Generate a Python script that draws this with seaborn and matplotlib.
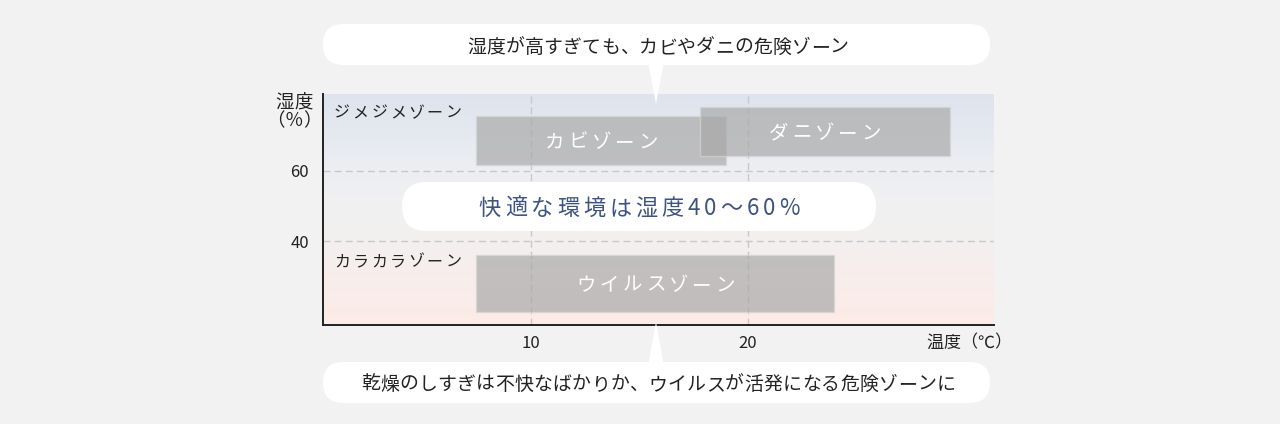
import numpy as np
import pandas as pd
import seaborn as sns
import matplotlib
matplotlib.use("Agg")
import matplotlib.pyplot as plt
from matplotlib.patches import FancyBboxPatch, Polygon
from matplotlib.colors import LinearSegmentedColormap
from matplotlib.font_manager import findfont, FontProperties
from matplotlib.ft2font import FT2Font

# ---------------- data ----------------
zone_names = ["カビゾーン", "ダニゾーン", "ウイルスゾーン"]
zone_temp_lo = [7.5, 17.8, 7.5]
zone_temp_hi = [19.0, 29.3, 24.0]
zone_hum_lo = [61.5, 64.2, 20.0]
zone_hum_hi = [75.5, 78.0, 36.0]

x_ticks = [10, 20]
y_ticks = [40, 60]
x_range = [0.43, 31.35]
y_range = [16.3, 81.7]

band_labels = ["ジメジメゾーン", "カラカラゾーン"]
band_label_y = [76.6, 34.6]

top_note = "湿度が高すぎても、カビやダニの危険ゾーン"
bottom_note = "乾燥のしすぎは不快なばかりか、ウイルスが活発になる危険ゾーンに"
comfort_note = "快適な環境は湿度40〜60%"
x_label = "温度（℃）"
y_label = ["湿度", "（％）"]

df = pd.DataFrame({"zone": zone_names, "t0": zone_temp_lo, "t1": zone_temp_hi,
                   "h0": zone_hum_lo, "h1": zone_hum_hi})

# ---------------- style ----------------
sns.set_theme(style="white")
FAM = ["Noto Sans CJK JP", "DejaVu Sans"]
plt.rcParams["font.family"] = FAM

W, H = 1280, 424
DPI = 100
fig = plt.figure(figsize=(W / DPI, H / DPI), dpi=DPI)
fig.patch.set_facecolor("#f2f2f2")

ax = fig.add_axes([323 / W, 1 - 325 / H, (994 - 323) / W, (325 - 94) / H])

# background gradient
cmap = LinearSegmentedColormap.from_list(
    "bg", [(0.0, "#fdebe7"), (0.32, "#f4efee"), (0.5, "#f1f1f1"), (0.68, "#eceef2"), (1.0, "#dee3ed")])
grad = np.linspace(0, 1, 256).reshape(-1, 1)
ax.imshow(grad, extent=(x_range[0], x_range[1], y_range[0], y_range[1]), origin="lower",
          aspect="auto", cmap=cmap, zorder=0, interpolation="bilinear")
ax.set_xlim(*x_range)
ax.set_ylim(*y_range)

# grid
ax.set_axisbelow(True)
ax.set_xticks(x_ticks)
ax.set_yticks(y_ticks)
ax.grid(True, color="#c8c8c8", linestyle=(0, (5, 3)), linewidth=1.0)

# zone rectangles
ax.bar(df["t0"], df["h1"] - df["h0"], width=df["t1"] - df["t0"], bottom=df["h0"],
       align="edge", color="#a8a8a8", alpha=0.68, edgecolor="#d6d6d6", linewidth=1.0, zorder=2)

sns.despine(ax=ax)
for s in ["left", "bottom"]:
    ax.spines[s].set_color("#222222")
    ax.spines[s].set_linewidth(1.4)
ax.tick_params(axis="both", length=0, labelsize=12, colors="#222222")
ax.tick_params(axis="y", pad=10)
ax.tick_params(axis="x", pad=7)
for lab in ax.get_xticklabels() + ax.get_yticklabels():
    lab.set_family(FAM)

# ---------------- overlay in pixel coordinates ----------------
ov = fig.add_axes([0, 0, 1, 1], zorder=5)
ov.set_xlim(0, W)
ov.set_ylim(0, H)
ov.axis("off")
ov.patch.set_alpha(0)

_font = FT2Font(findfont(FontProperties(family="Noto Sans CJK JP")))


def advance(ch, size):
    _font.set_size(size, DPI)
    g = _font.load_char(ord(ch))
    return g.linearHoriAdvance / 65536.0


def tracked(x, y, s, size, track, color, ha="center"):
    """Draw text with letter spacing; y is the visual centre (pixels from top)."""
    widths = [advance(ch, size) for ch in s]
    total = sum(widths) + track * (len(s) - 1)
    start = x - total / 2 if ha == "center" else x
    em = size * DPI / 72
    base = H - y - 0.37 * em
    for ch, w in zip(s, widths):
        ov.text(start, base, ch, fontsize=size, family=FAM, color=color,
                ha="left", va="baseline")
        start += w + track


def callout(x0, x1, y0, y1, tip_y, tip_x, base_y):
    box = FancyBboxPatch((x0, H - y1), x1 - x0, y1 - y0,
                         boxstyle="round,pad=0,rounding_size=%f" % ((y1 - y0) / 2),
                         facecolor="white", edgecolor="none", mutation_aspect=1)
    ov.add_patch(box)
    if tip_y is not None:
        tri = Polygon([(tip_x - 7.5, H - base_y), (tip_x + 7.5, H - base_y), (tip_x, H - tip_y)],
                      closed=True, facecolor="white", edgecolor="none")
        ov.add_patch(tri)


callout(323, 990, 24, 65, 104, 656, 64)
callout(323, 990, 362, 403, 322, 656, 363)
callout(402, 876, 182, 231, None, None, None)

tracked(658, 46, top_note, 13.6, 0.2, "#222222")
tracked(658, 383, bottom_note, 13.6, 0.3, "#222222")
tracked(639, 207, comfort_note, 16, 3.9, "#3d5382")

# zone labels at centres of rectangles (from data)
for _, r in df.iterrows():
    cx, cy = ax.transData.transform(((r.t0 + r.t1) / 2, (r.h0 + r.h1) / 2))
    tracked(cx, H - cy, r.zone, 14, 3.8, "white")

# band labels
for lab, yv in zip(band_labels, band_label_y):
    _, py = ax.transData.transform((0, yv))
    tracked(334, H - py, lab, 11.5, 2.6, "#222222", ha="left")

# axis labels
tracked(294, 101, y_label[0], 13.3, 0, "#222222")
tracked(294, 119, y_label[1], 13.3, 0, "#222222")
tracked(926, 341, x_label, 12.3, 0, "#222222", ha="left")

fig.savefig("out.png", dpi=DPI, facecolor=fig.get_facecolor())
